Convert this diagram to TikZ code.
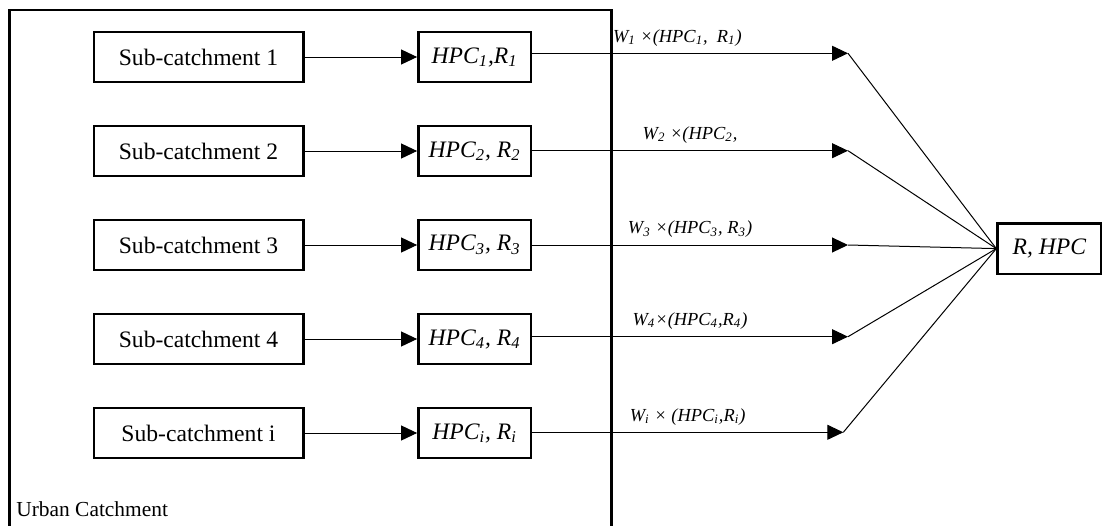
\documentclass[tikz,border=0pt]{standalone}
\usepackage{fontspec}
\setmainfont{Liberation Serif}
\usetikzlibrary{arrows.meta, positioning}

\begin{document}
\begin{tikzpicture}[
    x=0.5pt, y=-0.5pt,
    subbox/.style={rectangle, draw=black, line width=1.2pt, minimum width=104.8pt, minimum height=25pt, align=center, font=\fontsize{11.8}{14}\selectfont},
    hpcbox/.style={subbox, minimum width=56.3pt, font=\fontsize{11.8}{14}\selectfont\itshape},
    outbox/.style={subbox, minimum width=51.8pt, minimum height=25.3pt, font=\fontsize{11.8}{14}\selectfont\itshape},
    frame/.style={draw=black, line width=1.2pt},
    line/.style={draw=black, line width=0.5pt, -{Triangle[length=8pt, width=7.5pt]}},
    feed/.style={draw=black, line width=0.5pt},
    wlabel/.style={font=\fontsize{9.2}{11}\selectfont\itshape}
]
    \useasboundingbox (0,0) rectangle (1103,525);

    % Urban Catchment frame (runs off the bottom)
    \draw[frame] (9.5,540) -- (9.5,10) -- (611.5,10) -- (611.5,540);
    \node[anchor=base west, inner sep=0pt, font=\fontsize{10.7}{13}\selectfont] (UC) at (16,516) {Urban Catchment};

    % Sub-catchments
    \node[subbox] (S1) at (198.5,57) {Sub-catchment 1};
    \node[subbox, below=20.8pt of S1] (S2) {Sub-catchment 2};
    \node[subbox, below=20.8pt of S2] (S3) {Sub-catchment 3};
    \node[subbox, below=20.8pt of S3] (S4) {Sub-catchment 4};
    \node[subbox, below=20.8pt of S4] (S5) {Sub-catchment i};

    % HPC and R per sub-catchment
    \node[hpcbox, right=56.3pt of S1] (H1) {HPC\textsubscript{1},R\textsubscript{1}};
    \node[hpcbox, right=56.3pt of S2] (H2) {HPC\textsubscript{2}, R\textsubscript{2}};
    \node[hpcbox, right=56.3pt of S3] (H3) {HPC\textsubscript{3}, R\textsubscript{3}};
    \node[hpcbox, right=56.3pt of S4] (H4) {HPC\textsubscript{4}, R\textsubscript{4}};
    \node[hpcbox, right=56.3pt of S5] (H5) {HPC\textsubscript{i}, R\textsubscript{i}};

    % Whole catchment
    \node[outbox] (OUT) at (1049.3,248.6) {R, HPC};

    % Weighted inputs
    \coordinate (T1) at (848,53.3);
    \coordinate (T2) at (848,150.7);
    \coordinate (T3) at (848,245);
    \coordinate (T4) at (848,336.7);
    \coordinate (T5) at (843.3,432.3);

    % Connections
    \draw[line] (S1) -- (H1);
    \draw[line] (S2) -- (H2);
    \draw[line] (S3) -- (H3);
    \draw[line] (S4) -- (H4);
    \draw[line] (S5) -- (H5);

    \draw[line] (H1.east |- T1) -- (T1) node[wlabel, pos=0.46, above] {W\textsubscript{1} ×(HPC\textsubscript{1},\enspace R\textsubscript{1})};
    \draw[line] (H2.east |- T2) -- (T2) node[wlabel, midway, above] {W\textsubscript{2} ×(HPC\textsubscript{2},};
    \draw[line] (H3.east |- T3) -- (T3) node[wlabel, midway, above] {W\textsubscript{3} ×(HPC\textsubscript{3}, R\textsubscript{3})};
    \draw[line] (H4.east |- T4) -- (T4) node[wlabel, midway, above] {W\textsubscript{4}×(HPC\textsubscript{4},R\textsubscript{4})};
    \draw[line] (H5.east |- T5) -- (T5) node[wlabel, midway, above] {W\textsubscript{i} × (HPC\textsubscript{i},R\textsubscript{i})};

    \draw[feed] (T1) -- (OUT.west);
    \draw[feed] (T2) -- (OUT.west);
    \draw[feed] (T3) -- (OUT.west);
    \draw[feed] (T4) -- (OUT.west);
    \draw[feed] (T5) -- (OUT.west);
\end{tikzpicture}
\end{document}
